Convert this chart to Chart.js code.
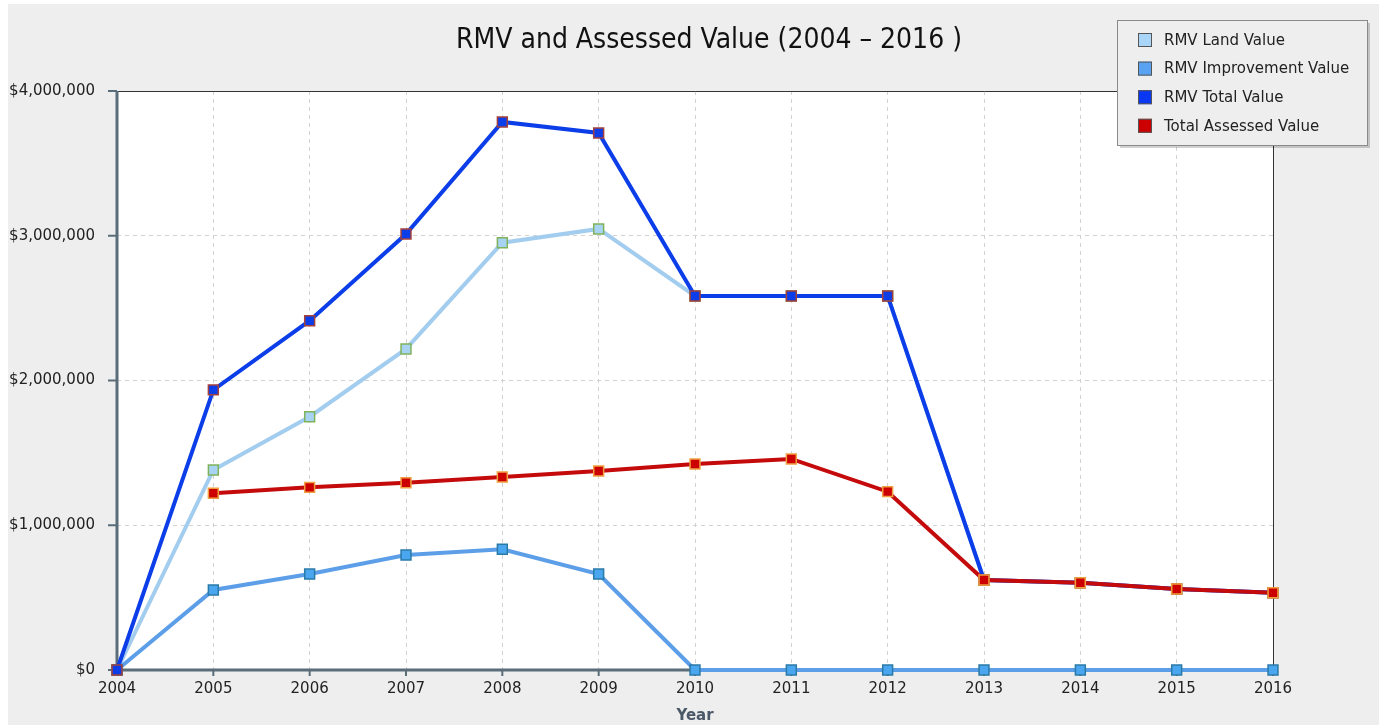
<!DOCTYPE html>
<html>
<head>
<meta charset="utf-8">
<title>RMV and Assessed Value</title>
<script src="https://cdn.jsdelivr.net/npm/chart.js@4.4.1/dist/chart.umd.min.js"></script>
<style>
    html, body { margin: 0; padding: 0; background: #ffffff; }
    #wrap { width: 1379px; height: 725px; }
</style>
</head>
<body>
<div id="wrap"><canvas id="valueChart" width="1379" height="725"></canvas></div>
<script>
        // Values per tax year
        const years = ['2004', '2005', '2006', '2007', '2008', '2009', '2010', '2011', '2012', '2013', '2014', '2015', '2016'];
        const landValue = [0, 1382000, 1750000, 2218000, 2952000, 3047000, 2584000, 2584000, 2584000, 622000, 603000, 560000, 534000];
        const improvementValue = [0, 553000, 663000, 794000, 834000, 663000, 0, 0, 0, 0, 0, 0, 0];
        const totalValue = [0, 1935000, 2413000, 3012000, 3786000, 3710000, 2584000, 2584000, 2584000, 622000, 603000, 560000, 534000];
        const assessedValue = [null, 1221000, 1262000, 1294000, 1333000, 1375000, 1423000, 1458000, 1232000, 622000, 603000, 560000, 534000];

        const chartTitle = 'RMV and Assessed Value (2004 \u2013 2016 )';
        const axisColor = '#5a6d79';

        function formatMoney(v) {
            return '$' + Number(v).toLocaleString('en-US');
        }

        function series(label, data, lineColor, swatch, markerFill, markerEdge, order) {
            return {
                label: label,
                data: data,
                borderColor: lineColor,
                backgroundColor: swatch,
                borderWidth: 4,
                pointStyle: 'rect',
                pointRadius: 7,
                pointHoverRadius: 7,
                pointBackgroundColor: markerFill,
                pointBorderColor: markerEdge,
                pointBorderWidth: 1.5,
                tension: 0,
                fill: false,
                clip: false,
                order: order
            };
        }

        // Backgrounds, plot frame, title and the boxed legend
        const framePlugin = {
            id: 'framePlugin',
            beforeDraw(chart) {
                const ctx = chart.ctx;
                const a = chart.chartArea;
                ctx.save();
                ctx.fillStyle = '#ffffff';
                ctx.fillRect(0, 0, chart.width, chart.height);
                ctx.fillStyle = '#eeeeee';
                ctx.fillRect(8, 4, chart.width - 8, chart.height - 4);
                ctx.fillStyle = '#ffffff';
                ctx.fillRect(a.left, a.top, a.right - a.left, a.bottom - a.top);
                ctx.restore();
            },
            beforeDatasetsDraw(chart) {
                const ctx = chart.ctx;
                const a = chart.chartArea;
                const x = chart.scales.x;
                const y = chart.scales.y;
                ctx.save();
                // thin top / right border
                ctx.strokeStyle = '#333333';
                ctx.lineWidth = 1;
                ctx.beginPath();
                ctx.moveTo(a.left, a.top + 0.5);
                ctx.lineTo(a.right + 0.5, a.top + 0.5);
                ctx.lineTo(a.right + 0.5, a.bottom);
                ctx.stroke();
                // heavy axis lines
                ctx.strokeStyle = axisColor;
                ctx.lineWidth = 3;
                ctx.beginPath();
                ctx.moveTo(a.left, a.top);
                ctx.lineTo(a.left, a.bottom);
                ctx.lineTo(a.right, a.bottom);
                ctx.stroke();
                // tick marks
                ctx.lineWidth = 2;
                ctx.beginPath();
                y.ticks.forEach((t, i) => {
                    const py = y.getPixelForTick(i);
                    ctx.moveTo(a.left - 9, py);
                    ctx.lineTo(a.left, py);
                });
                x.ticks.forEach((t, i) => {
                    const px = x.getPixelForTick(i);
                    ctx.moveTo(px, a.bottom);
                    ctx.lineTo(px, a.bottom + 6);
                });
                ctx.stroke();
                ctx.restore();
            },
            afterDraw(chart) {
                const ctx = chart.ctx;
                ctx.save();
                // title
                ctx.fillStyle = '#111111';
                ctx.font = '28px "Liberation Sans Narrow", "DejaVu Sans Condensed", "Liberation Sans", sans-serif';
                ctx.textAlign = 'center';
                ctx.textBaseline = 'middle';
                ctx.fillText(chartTitle, 709, 41);

                // legend box
                const bx = 1117, by = 20, bw = 250, bh = 125;
                ctx.fillStyle = 'rgba(0,0,0,0.18)';
                ctx.fillRect(bx + 3, by + 3, bw, bh);
                ctx.fillStyle = '#eeeeee';
                ctx.fillRect(bx, by, bw, bh);
                ctx.strokeStyle = '#8a8a8a';
                ctx.lineWidth = 1;
                ctx.strokeRect(bx + 0.5, by + 0.5, bw, bh);

                ctx.font = '15px "DejaVu Sans", sans-serif';
                ctx.textAlign = 'left';
                chart.data.datasets.forEach((ds, i) => {
                    const cy = by + 20 + i * 28.6;
                    ctx.fillStyle = ds.backgroundColor;
                    ctx.fillRect(bx + 21, cy - 7, 14, 14);
                    ctx.strokeStyle = '#555555';
                    ctx.strokeRect(bx + 21.5, cy - 6.5, 13, 13);
                    ctx.fillStyle = '#222222';
                    ctx.fillText(ds.label, bx + 47, cy + 1);
                });
                ctx.restore();
            }
        };

        const ctx = document.getElementById('valueChart').getContext('2d');
        new Chart(ctx, {
            type: 'line',
            data: {
                labels: years,
                datasets: [
                    series('RMV Land Value', landValue, '#a3cdef', '#a9d6f8', '#a9d3f2', '#7fb35a', 4),
                    series('RMV Improvement Value', improvementValue, '#5c9fe8', '#5aa3f2', '#4aa6ef', '#2a7aa8', 3),
                    series('RMV Total Value', totalValue, '#0b3ee8', '#0a38f2', '#0b3ee8', '#a3403c', 2),
                    series('Total Assessed Value', assessedValue, '#c40a0a', '#cc0000', '#cc0000', '#f0a040', 1)
                ]
            },
            options: {
                responsive: false,
                animation: false,
                layout: { padding: { top: 91, right: 106, bottom: 0, left: 0 } },
                plugins: {
                    legend: { display: false },
                    title: { display: false },
                    tooltip: { enabled: false }
                },
                scales: {
                    x: {
                        type: 'category',
                        offset: false,
                        grid: { color: '#d2d2d2', lineWidth: 1, drawTicks: false },
                        border: { display: false, dash: [4, 4] },
                        ticks: {
                            color: '#222222',
                            font: { family: 'DejaVu Sans', size: 15 },
                            padding: 10,
                            maxRotation: 0,
                            autoSkip: false
                        },
                        title: {
                            display: true,
                            text: 'Year',
                            color: '#4a5868',
                            font: { family: 'DejaVu Sans', size: 15, weight: 'bold' },
                            padding: { top: 4, bottom: 0 }
                        },
                        afterFit(scale) { scale.height = 55; }
                    },
                    y: {
                        min: 0,
                        max: 4000000,
                        grid: { color: '#d2d2d2', lineWidth: 1, drawTicks: false },
                        border: { display: false, dash: [4, 4] },
                        ticks: {
                            stepSize: 1000000,
                            color: '#222222',
                            font: { family: 'DejaVu Sans', size: 15 },
                            padding: 22,
                            callback: formatMoney
                        },
                        afterFit(scale) { scale.width = 117; }
                    }
                }
            },
            plugins: [framePlugin]
        });
</script>
</body>
</html>
